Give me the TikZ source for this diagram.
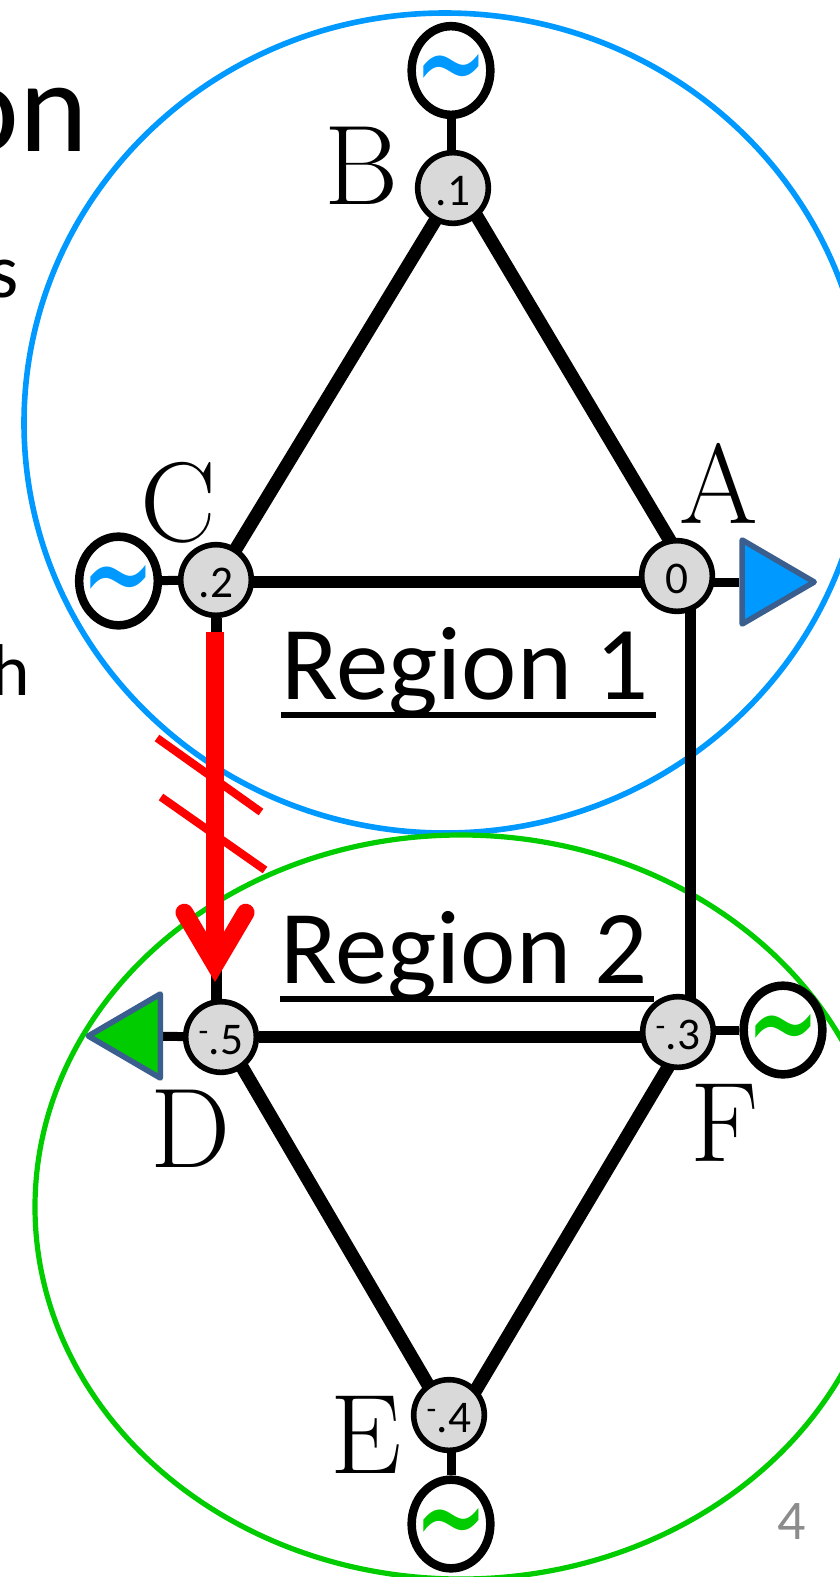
\documentclass[tikz,border=0pt]{standalone}
\usepackage{xcolor}
\usepackage{fontspec}
\setsansfont{Carlito}
\newfontfamily\wavefont{DejaVu Sans}
\usepackage{tikz}
\usetikzlibrary{arrows.meta,backgrounds,shapes.geometric}

\definecolor{regblue}{HTML}{0099FF}
\definecolor{reggreen}{HTML}{00CC00}
\definecolor{loadedge}{HTML}{3A5F8F}
\definecolor{busgray}{HTML}{D9D9D9}
\definecolor{pagegray}{HTML}{8C8C8C}

\newcommand{\wave}{\makebox[0pt]{\smash{\raisebox{-30pt}{\scalebox{1}[1.6]{\wavefont\fontsize{66}{66}\selectfont\symbol{126}}}}}}

\tikzset{
  bus/.style={circle, draw, fill=busgray, line width=4.2pt, minimum size=53pt, inner sep=0pt,
    text height=25.5pt, text depth=0pt, font=\sffamily\fontsize{34}{34}\selectfont},
  gen/.style={ellipse, draw, fill=white, line width=6.4pt, minimum width=59pt, minimum height=66.5pt, inner sep=0pt},
  load/.style={isosceles triangle, isosceles triangle stretches, draw=loadedge, line width=4.2pt, line join=round,
    minimum width=63pt, minimum height=54pt, inner sep=0pt},
  busname/.style={anchor=base, inner sep=0pt, font=\fontsize{85}{85}\selectfont},
  regname/.style={anchor=base west, inner sep=0pt, font=\sffamily\fontsize{78.6}{78}\selectfont},
  leftover/.style={anchor=base east, inner sep=0pt, font=\sffamily\fontsize{58}{58}\selectfont},
  tie/.style={line width=9pt},
  slant/.style={line width=10pt},
  riser/.style={line width=8.25pt},
  stub/.style={line width=6.75pt},
  rule/.style={line width=4.8pt},
  breaker/.style={red, line width=6pt},
}

\begin{document}
\begin{tikzpicture}[x=0.75pt,y=-0.75pt]
\useasboundingbox (0,0) rectangle (839,1577);

% buses
\node[bus] (A) at (677,576) {0};
\node[bus] (B) at (453,188) {.1};
\node[bus] (C) at (216,580) {.2};
\node[bus] (D) at (221,1037) {\textsuperscript{-}.5};
\node[bus] (E) at (449,1415) {\textsuperscript{-}.4};
\node[bus] (F) at (678,1032) {\textsuperscript{-}.3};

% generators and loads
\node[gen, text=regblue] (genB) at (451,70.5) {\wave};
\node[gen, text=regblue] (genC) at (118.5,581) {\wave};
\node[gen, text=reggreen] (genF) at (783,1030) {\wave};
\node[gen, text=reggreen] (genE) at (451,1524) {\wave};
\node[load, fill=regblue, anchor=apex] (loadA) at (821.5,582) {};
\node[load, fill=reggreen, shape border rotate=180, anchor=apex] (loadD) at (81,1036) {};

% labels
\node[busname] (nameA) at (719,523) {A};
\node[busname] (nameB) at (362,204) {B};
\node[busname] (nameC) at (178,541) {C};
\node[busname] (nameD) at (191,1167) {D};
\node[busname] (nameE) at (366,1473) {E};
\node[busname] (nameF) at (725,1161) {F};
\node[regname] (reg1) at (281,699) {Region 1};
\node[regname] (reg2) at (280,983) {Region 2};
\draw[rule] ([yshift=-12pt]reg1.base west) -- ([xshift=5pt,yshift=-12pt]reg1.base east);
\draw[rule] ([yshift=-12pt]reg2.base west) -- ([xshift=4pt,yshift=-12pt]reg2.base east);

% cut off by the page
\node[leftover, font=\sffamily\fontsize{98}{98}\selectfont] (title) at (88,151) {on};
\node[leftover] (textS) at (19,297) {s};
\node[leftover, font=\sffamily\fontsize{55}{55}\selectfont] (textH) at (30,695) {h};
\node[anchor=base, inner sep=0pt, text=pagegray, font=\sffamily\fontsize{42}{42}\selectfont] (page) at (792,1539) {4};

\begin{scope}[on background layer]
\draw[regblue, line width=4.2pt] (445,423) ellipse (421 and 410);
\draw[reggreen, line width=3.9pt] (461,1207) ellipse (426 and 372);
\coordinate (lineAB) at (691,576);
\coordinate (lineBA) at (460,188);
\coordinate (lineBC) at (455,188);
\coordinate (lineCB) at (217,580);
\coordinate (lineCA) at (216,582);
\coordinate (lineAC) at (677,582);
\coordinate (lineDE) at (224.5,1037);
\coordinate (lineED) at (445.7,1415);
\coordinate (lineEF) at (461,1415);
\coordinate (lineFE) at (689,1032);
\coordinate (lineAF) at (690,582);
\coordinate (lineFA) at (690,1036);
\draw[slant] (lineAB) -- (lineBA);
\draw[slant] (lineBC) -- (lineCB);
\draw[tie] (lineCA) -- (lineAC);
\draw[riser] (C) -- (C |- D);
\draw[tie] (D) -- (D -| F);
\draw[slant] (lineDE) -- (lineED);
\draw[slant] (lineEF) -- (lineFE);
\draw[riser] (lineAF) -- (lineFA);
\draw[stub] (genB) -- (genB |- B);
\draw[stub] (C) -- (genC);
\draw[stub] (genE) -- (genE |- E);
\draw[stub] (genF) -- (genF -| F);
\draw[stub] (A |- loadA) -- (loadA);
\draw[stub] (D) -- (loadD);
\end{scope}

% overloaded line
\coordinate (flowTop) at (215,632);
\coordinate (flowEnd) at (215,982);
\coordinate (breakA) at (157,738);
\coordinate (breakB) at (261,812);
\coordinate (breakC) at (161,797);
\coordinate (breakD) at (265,870);
\draw[breaker] (breakA) -- (breakB);
\draw[breaker] (breakC) -- (breakD);
\draw[red, line width=13.3pt, -{Straight Barb[length=39pt,width=46pt,line cap=round,line join=miter]}] (flowTop) -- (flowEnd);
\end{tikzpicture}
\end{document}
